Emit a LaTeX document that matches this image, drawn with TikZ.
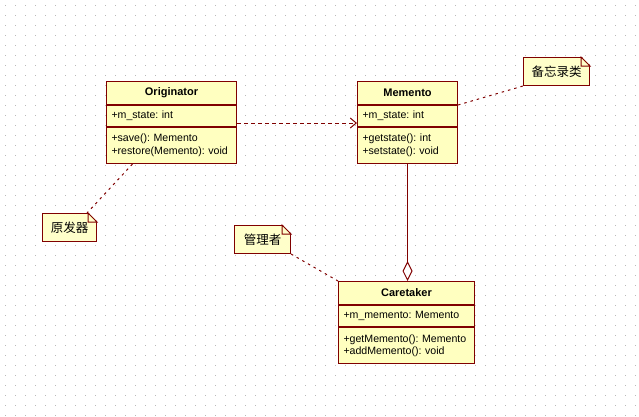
\documentclass[tikz,border=0pt]{standalone}
\usepackage{fontspec}
\setmainfont{Liberation Sans}
\newfontfamily\cjk{Noto Sans CJK SC}
\usetikzlibrary{arrows.meta}
\definecolor{umlline}{RGB}{128,0,0}
\definecolor{umlfill}{RGB}{255,255,192}
\definecolor{notefill}{RGB}{255,255,202}
\definecolor{griddot}{RGB}{185,185,185}
\frenchspacing

\begin{document}
\begin{tikzpicture}[x=1pt, y=-1pt,
        font=\fontsize{10.6}{12.5}\selectfont,
        box/.style={draw=umlline, fill=umlfill, line width=1pt, inner sep=0pt, anchor=north west},
        clstitle/.style={box, minimum width=#1, minimum height=23pt, font=\fontsize{11}{13}\selectfont\bfseries},
        clsattr/.style={box, minimum height=21pt, inner xsep=5pt, text width=#1, align=left},
        clsops/.style={box, minimum height=36pt, inner xsep=5pt, text width=#1, align=left},
        note/.style={draw=umlline, fill=notefill, line width=1pt, inner sep=0pt, anchor=north west,
            minimum height=28pt, font=\cjk\fontsize{12.5}{14}\selectfont},
        fold/.style={draw=umlline, fill=notefill, line width=1pt, line join=miter},
        dep/.style={draw=umlline, line width=1pt, dash pattern=on 4pt off 3pt,
            -{Straight Barb[length=6pt, width=10pt, line width=1pt]}},
        agg/.style={draw=umlline, line width=1pt, -{Diamond[open, length=20pt, width=10pt, line width=1pt]}},
        link/.style={draw=umlline, line width=1pt, dash pattern=on 2.5pt off 4pt}]

    \useasboundingbox (0,0) rectangle (639,416);

    % Grid
    \foreach \gx in {5,15,...,635}
        \foreach \gy in {5,15,...,415}
            \fill[griddot] (\gx,\gy) rectangle ++(1,1);

    % Classes
    \node[clstitle=130pt] (O-title) at (106,81) {Originator};
    \node[clsattr=120pt] (O-attr) at (O-title.south west) {+m\_state: int};
    \node[clsops=120pt] (O-ops) at (O-attr.south west) {+save(): Memento\\+restore(Memento): void};

    \node[clstitle=100pt] (M-title) at (357,81) {Memento};
    \node[clsattr=90pt] (M-attr) at (M-title.south west) {+m\_state: int};
    \node[clsops=90pt] (M-ops) at (M-attr.south west) {+getstate(): int\\+setstate(): void};

    \node[clstitle=136pt] (C-title) at (338,281) {Caretaker};
    \node[clsattr=126pt] (C-attr) at (C-title.south west) {+m\_memento: Memento};
    \node[clsops=126pt] (C-ops) at (C-attr.south west) {+getMemento(): Memento\\+addMemento(): void};

    % Notes
    \node[note, minimum width=54pt] (noteO) at (42,213) {原发器\hspace{5pt}};
    \node[note, minimum width=56pt] (noteC) at (234,225) {管理者\hspace{5pt}};
    \node[note, minimum width=66pt] (noteM) at (523,57) {备忘录类\hspace{6pt}};
    \foreach \n in {noteO,noteC,noteM} {
        \fill[white] ([xshift=-9pt,yshift=1pt]\n.north east) -- ([xshift=1pt,yshift=1pt]\n.north east)
            -- ([xshift=1pt,yshift=-9pt]\n.north east) -- cycle;
        \draw[fold] ([xshift=-9pt]\n.north east) -- ([xshift=-9pt,yshift=-9pt]\n.north east)
            -- ([yshift=-9pt]\n.north east) -- cycle;
    }

    % Connectors
    \draw[dep] ([yshift=-7pt]O-attr.east) -- ([yshift=-7pt]M-attr.west);
    \draw[agg] (M-ops.south) -- (M-ops.south |- C-title.north);
    \draw[link] ([xshift=-39pt]O-ops.south) -- ([xshift=-10pt]noteO.north east);
    \draw[link] (noteC.south east) -- (C-title.north west);
    \draw[link] (M-title.south east) -- (noteM.south west);
\end{tikzpicture}
\end{document}
